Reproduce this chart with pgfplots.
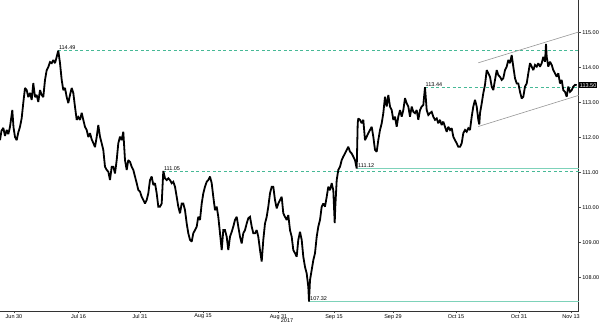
\documentclass[border=0pt]{standalone}
\usepackage{pgfplots}
\pgfplotsset{compat=1.18}
\usepackage{fontspec}
\setmainfont{Liberation Sans}
\definecolor{dashgreen}{RGB}{70,185,150}
\definecolor{solidgreen}{RGB}{125,210,185}
\definecolor{chan}{RGB}{150,150,150}
\begin{document}
\begin{tikzpicture}
\begin{axis}[
  at={(0pt,12pt)}, anchor=south west,
  scale only axis, width=578.7pt, height=311pt,
  xmin=0, xmax=578.7, ymin=107.049, ymax=115.934,
  axis x line=bottom, axis y line=right,
  axis line style={black!80, line width=0.6pt, -},
  tick align=outside, major tick length=2.5pt,
  tick style={black!70, line width=0.5pt},
  xtick={14,78.5,140,203,278.5,334,393,456,519,571},
  xticklabels={Jun 30,Jul 16,Jul 31,Aug 15,Aug 31,Sep 15,Sep 29,Oct 15,Oct 31,Nov 13},
  ytick={108,109,110,111,112,113,114,115},
  yticklabel style={inner sep=1pt, /pgf/number format/fixed, /pgf/number format/fixed zerofill, /pgf/number format/precision=2, /pgf/number format/assume math mode=true},
  ticklabel style={font=\fontsize{5.5}{6}\selectfont},
  xticklabel style={inner sep=0pt, yshift=-0.5pt},
  xlabel={2017}, xlabel style={at={(axis description cs:0.496,0)}, anchor=north, yshift=-7pt, inner sep=0pt, font=\fontsize{5.5}{6}\selectfont},
  clip=false,
]
% reference levels
\addplot[color=dashgreen, dash pattern=on 3pt off 2.5pt, line width=0.8pt] coordinates {(58.3,114.49) (578.7,114.49)};
\addplot[color=dashgreen, dash pattern=on 3pt off 2.5pt, line width=0.8pt] coordinates {(425,113.44) (578.7,113.44)};
\addplot[color=dashgreen, dash pattern=on 3pt off 2.5pt, line width=0.8pt] coordinates {(163.3,111.05) (578.7,111.05)};
\addplot[color=solidgreen, line width=1pt] coordinates {(357,111.12) (578.7,111.12)};
\addplot[color=solidgreen, line width=1pt] coordinates {(309,107.32) (578.7,107.32)};
% channel
\addplot[color=chan, line width=0.6pt] coordinates {(478.3,114.14) (578.7,115.02)};
\addplot[color=chan, line width=0.6pt] coordinates {(478.3,112.32) (578.7,113.21)};
% price
\addplot[black, line width=1.8pt, line join=miter, miter limit=2] coordinates {
(0,111.93) (1.5,112.2) (3.3,112.28) (5,112.05) (6.7,112.22) (8.3,112.1) (10,112.31) (12.3,112.79) (13.5,112.3) (15,112.02) (16.7,111.93) (18.3,112.15) (20,112.31) (21.7,112.56) (23.3,113.0) (25,113.42) (26.7,113.36) (28.3,113.16) (30,113.28) (31.7,113.08) (33.3,113.56) (35,113.16) (36.7,113.22) (38.3,113.02) (40,113.36) (41.7,113.22) (43.3,113.16) (45,113.65) (46.7,113.93) (48.3,114.02) (50,114.16) (51.7,114.13) (53.3,114.22) (55,114.13) (56.7,114.31) (58.3,114.49) (60,114.13) (61.7,113.65) (63.3,113.36) (65,113.42) (66.7,113.16) (68.3,112.99) (70,113.22) (71.7,113.42) (73.3,113.28) (75,112.88) (76.7,112.51) (78.3,112.59) (80,112.51) (81.7,112.71) (83.3,112.51) (85,112.31) (86.7,112.22) (88.3,112.02) (90,112.13) (91.7,111.95) (93.3,111.85) (95,111.73) (96.7,112.02) (98.3,112.36) (100,112.03) (101.7,111.84) (103.3,111.65) (105,111.17) (106.7,111.08) (108.3,111.03) (110,110.79) (111.7,111.17) (113.3,111.17) (115,110.98) (116.7,111.36) (118.3,111.84) (120,112.03) (121.7,111.93) (123.3,112.17) (125,111.36) (126.7,111.08) (128.3,111.36) (130,111.31) (131.7,111.17) (133.3,111.08) (135,110.89) (136.7,110.70) (138.3,110.51) (140,110.46) (141.7,110.31) (143.3,110.22) (145,110.12) (146.7,110.22) (148.3,110.41) (150,110.79) (151.7,110.89) (153.3,110.65) (155,110.70) (156.7,110.41) (158.3,110.03) (160,110.03) (161.7,110.12) (163.3,111.05) (165,110.84) (166.7,110.79) (168.3,110.84) (170,110.79) (171.7,110.70) (173.3,110.74) (175,110.60) (176.7,110.31) (178.3,110.03) (180,109.84) (181.7,110.12) (183.3,110.12) (185,109.93) (186.7,109.55) (188.3,109.27) (190,109.08) (191.7,109.03) (193.3,109.27) (195,109.36) (196.7,109.46) (198.3,109.74) (200,109.65) (201.7,110.12) (203.3,110.41) (205,110.60) (206.7,110.74) (208.3,110.79) (210,110.89) (211.7,110.70) (213.3,110.31) (215,109.93) (216.7,110.03) (218.3,109.74) (220,109.27) (221.7,108.79) (223.3,109.36) (225,109.36) (226.7,109.17) (228.3,108.79) (230,109.17) (231.7,109.31) (233.3,109.46) (235,109.65) (236.7,109.74) (238.3,109.46) (240,109.17) (241.7,108.98) (243.3,109.27) (245,109.36) (246.7,109.55) (248.3,109.70) (250,109.74) (251.7,109.46) (253.3,109.27) (255,109.27) (256.7,109.36) (258.3,109.17) (260,108.79) (261.7,108.46) (263.3,109.08) (265,109.55) (266.7,109.74) (268.3,110.03) (270,110.41) (271.7,110.60) (273.3,110.60) (275,110.22) (276.7,109.98) (278.3,110.12) (280,110.22) (281.7,110.31) (283.3,109.84) (285,109.74) (286.7,109.65) (288.3,109.79) (290,109.36) (291.7,109.17) (293.3,108.79) (295,108.70) (296.7,108.60) (298.3,109.08) (300,109.31) (301.7,109.08) (303.3,108.60) (305,108.31) (306.7,108.12) (308.3,107.74) (309,107.32) (310,107.93) (311.7,108.22) (313.3,108.50) (315,108.70) (316.7,109.17) (318.3,109.46) (320,109.65) (321.7,110.03) (323.3,110.12) (325,110.03) (326.7,110.31) (328.3,110.60) (330,110.50) (331.7,110.70) (333.3,110.50) (334.7,109.56) (335.3,110.03) (336.7,110.79) (338.3,111.08) (340,111.17) (341.7,111.36) (343.3,111.46) (345,111.55) (346.7,111.65) (348.3,111.74) (350,111.60) (351.7,111.55) (353.3,111.46) (355,111.36) (356.7,111.12) (357.7,112.41) (358.3,112.55) (360,112.51) (361.7,112.41) (363.3,112.51) (365,111.93) (366.7,112.03) (368.3,112.13) (370,112.22) (371.7,112.31) (373.3,112.03) (375,111.65) (376.7,111.60) (378.3,111.93) (380,112.22) (381.7,112.41) (383.3,112.70) (385,113.17) (386.7,112.89) (388.3,113.22) (390,112.89) (391.7,112.79) (393.3,112.51) (395,112.60) (396.7,112.31) (398.3,112.60) (400,112.79) (401.7,112.60) (403.3,112.79) (405,113.13) (406.7,112.98) (408.3,112.89) (410,112.60) (411.7,112.89) (413.3,112.74) (415,112.70) (416.7,112.79) (418.3,112.51) (420,112.79) (421.7,112.89) (423.3,112.93) (425,113.44) (426.7,112.79) (428.3,112.65) (430,112.70) (431.7,112.74) (433.3,112.60) (435,112.51) (436.7,112.55) (438.3,112.41) (440,112.51) (441.7,112.36) (443.3,112.46) (445,112.31) (446.7,112.17) (448.3,112.31) (450,112.22) (451.7,112.27) (453.3,112.03) (455,111.93) (456.7,111.84) (458.3,111.74) (460,111.74) (461.7,111.84) (463.3,112.13) (465,112.22) (466.7,112.17) (468.3,112.27) (470,112.22) (471.7,112.60) (473.3,112.89) (475,113.08) (476.7,112.89) (478.3,112.51) (479.3,112.38) (480,112.70) (481.7,112.98) (483.3,113.27) (485,113.51) (486.7,113.93) (488.3,113.84) (490,113.74) (491.7,113.46) (493.3,113.36) (495,113.65) (496.7,113.93) (498.3,113.79) (500,113.74) (501.7,113.65) (503.3,113.70) (505,113.93) (506.7,114.03) (508.3,114.22) (510,114.13) (511.7,114.36) (513.3,114.03) (515,113.70) (516.7,113.55) (518.3,113.55) (520,113.31) (521.7,113.12) (523.3,113.17) (525,113.46) (526.7,113.55) (528.3,113.84) (530,114.13) (531.7,114.03) (533.3,113.93) (535,114.08) (536.7,114.03) (538.3,114.13) (540,114.03) (541.7,114.13) (543.3,114.31) (545,114.17) (546,114.68) (546.7,114.31) (548.3,114.03) (550,114.17) (551.7,114.08) (553.3,113.93) (555,113.84) (556.7,113.74) (558.3,113.84) (560,113.55) (561.7,113.65) (563.3,113.36) (565,113.31) (566.7,113.17) (568.3,113.46) (570,113.31) (571.7,113.36) (573.3,113.46) (575,113.51) (576.7,113.50)
};
% level labels
\node[anchor=south west, inner sep=0.5pt, font=\fontsize{5.5}{6}\selectfont] at (axis cs:58.3,114.49) {114.49};
\node[anchor=south west, inner sep=0.5pt, font=\fontsize{5.5}{6}\selectfont] at (axis cs:425,113.44) {113.44};
\node[anchor=south west, inner sep=0.5pt, font=\fontsize{5.5}{6}\selectfont] at (axis cs:163.3,111.05) {111.05};
\node[anchor=south west, inner sep=0.5pt, font=\fontsize{5.5}{6}\selectfont] at (axis cs:357.5,111.12) {111.12};
\node[anchor=south west, inner sep=0.5pt, font=\fontsize{5.5}{6}\selectfont] at (axis cs:309.5,107.32) {107.32};
\node[anchor=west, fill=black, text=white, inner sep=1pt, font=\fontsize{5.5}{6}\selectfont] at (axis cs:578.7,113.50) {113.50};
\end{axis}
\pgfresetboundingbox
\path[use as bounding box] (0,0) rectangle (600pt,323pt);
\end{tikzpicture}
\end{document}
